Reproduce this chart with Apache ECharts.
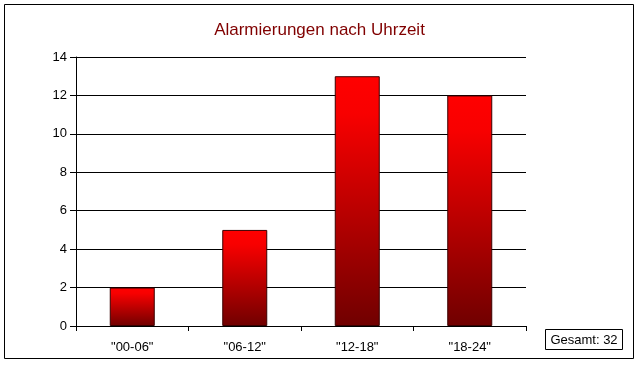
<!DOCTYPE html>
<html><head><meta charset="utf-8">
<script src="https://cdn.jsdelivr.net/npm/echarts@6/dist/echarts.min.js"></script>
<style>html,body{margin:0;padding:0;background:#fff}#c{width:639px;height:365px}</style>
</head><body><div id="c"></div>
<script>
const title = 'Alarmierungen nach Uhrzeit';
const categories = ['"00-06"', '"06-12"', '"12-18"', '"18-24"'];
const values = [2, 5, 13, 12];
const totalLabel = 'Gesamt: 32';
const yMin = 0, yMax = 14, yStep = 2;

const chart = echarts.init(document.getElementById('c'), null, {renderer: 'canvas'});
const font = 'Liberation Sans, Arial, sans-serif';
chart.setOption({
  animation: false,
  backgroundColor: '#fff',
  graphic: [
    {type: 'rect', shape: {x: 4.5, y: 4.5, width: 629, height: 354}, style: {fill: 'none', stroke: '#000', lineWidth: 1}},
    {type: 'rect', shape: {x: 545.5, y: 329.5, width: 77, height: 20}, style: {fill: '#fff', stroke: '#000', lineWidth: 1}},
    {type: 'text', x: 584, y: 340, style: {text: totalLabel, font: '13px ' + font, fill: '#000', align: 'center', verticalAlign: 'middle'}}
  ],
  title: {text: title, left: 'center', top: 17, textStyle: {color: '#800000', fontSize: 17, fontWeight: 'normal', fontFamily: font}},
  grid: {left: 76, right: 113, top: 57, bottom: 39, containLabel: false},
  xAxis: {
    type: 'category', data: categories,
    axisLine: {lineStyle: {color: '#000', width: 1}},
    axisTick: {show: true, length: 5, lineStyle: {color: '#000'}, alignWithLabel: false},
    axisLabel: {color: '#000', fontSize: 13, fontFamily: font, margin: 15}
  },
  yAxis: {
    type: 'value', min: yMin, max: yMax, interval: yStep,
    axisLine: {show: true, lineStyle: {color: '#000', width: 1}},
    axisTick: {show: true, length: 6, lineStyle: {color: '#000'}},
    axisLabel: {color: '#000', fontSize: 13, fontFamily: font, margin: 9},
    splitLine: {show: true, lineStyle: {color: '#000', width: 1}}
  },
  series: [{
    type: 'bar', data: values, barWidth: '40%',
    itemStyle: {
      borderColor: '#3a0000', borderWidth: 1,
      color: new echarts.graphic.LinearGradient(0, 0, 0, 1, [
        {offset: 0, color: '#ff0000'},
        {offset: 0.15, color: '#f80000'},
        {offset: 1, color: '#700000'}
      ])
    }
  }]
});
</script></body></html>
